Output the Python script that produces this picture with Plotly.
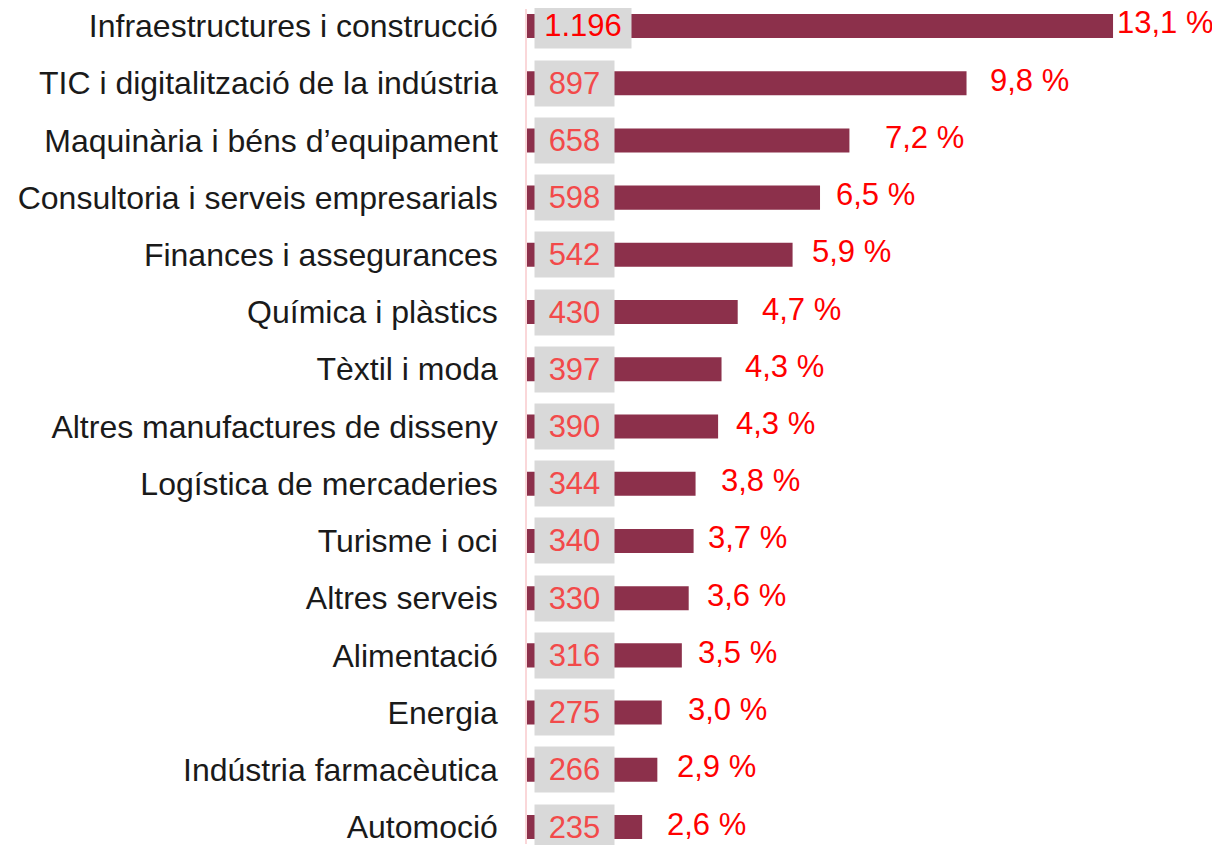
import plotly.graph_objects as go

categories = [
    "Infraestructures i construcció",
    "TIC i digitalització de la indústria",
    "Maquinària i béns d’equipament",
    "Consultoria i serveis empresarials",
    "Finances i assegurances",
    "Química i plàstics",
    "Tèxtil i moda",
    "Altres manufactures de disseny",
    "Logística de mercaderies",
    "Turisme i oci",
    "Altres serveis",
    "Alimentació",
    "Energia",
    "Indústria farmacèutica",
    "Automoció",
]
values = [1196, 897, 658, 598, 542, 430, 397, 390, 344, 340, 330, 316, 275, 266, 235]
value_labels = ["1.196", "897", "658", "598", "542", "430", "397", "390", "344",
                "340", "330", "316", "275", "266", "235"]
pct_labels = ["13,1 %", "9,8 %", "7,2 %", "6,5 %", "5,9 %", "4,7 %", "4,3 %", "4,3 %",
              "3,8 %", "3,7 %", "3,6 %", "3,5 %", "3,0 %", "2,9 %", "2,6 %"]

# styling
pct_gap_px = [2, 21, 34, 14, 17, 22, 21, 16, 23, 12, 16, 14, 24, 18, 23]
FONT = "Liberation Sans, Arial, Helvetica, sans-serif"
BAR_COLOR = "#8C304B"
FS = 32

# page has an 8px body margin; figure sized/placed to compensate
W, H = 1212, 837
L = 519
row_px = (828 - 25) / 14.0
top_c = 17.0  # centre of first row, in figure pixels

fig = go.Figure()
fig.add_trace(go.Bar(
    x=values, y=categories, orientation="h",
    marker=dict(color=BAR_COLOR, line=dict(width=0)),
    width=0.42, hoverinfo="skip",
))

annotations = []
for i, (cat, v, vl, pl) in enumerate(zip(categories, values, value_labels, pct_labels)):
    annotations.append(dict(
        x=0, y=cat, xref="x", yref="y", xanchor="left", yanchor="middle",
        xshift=7, text=vl, showarrow=False,
        font=dict(family=FONT, size=FS - 1, color="#FF0000" if i == 0 else "#F24A4A"),
        bgcolor="#D9D9D9", borderpad=5, width=86 if len(vl) > 3 else 69, align="center",
    ))
    annotations.append(dict(
        x=v, y=cat, xref="x", yref="y", xanchor="left", yanchor="middle",
        xshift=pct_gap_px[i], yshift=3, text=pl, showarrow=False,
        font=dict(family=FONT, size=FS - 1, color="#FF0000"),
    ))

px_per_unit = 0.49
fig.update_layout(
    width=W, height=H,
    margin=dict(l=L, r=0, t=0, b=0),
    plot_bgcolor="white", paper_bgcolor="white",
    showlegend=False,
    annotations=annotations,
    xaxis=dict(range=[0, (W - L) / px_per_unit], visible=False, fixedrange=True),
    yaxis=dict(
        type="category", categoryorder="array", categoryarray=categories,
        range=[(H - top_c) / row_px, -top_c / row_px],
        showgrid=False, zeroline=False,
        showline=True, linecolor="#FAD7D9", linewidth=1.5,
        ticks="", ticklabelstandoff=21,
        tickfont=dict(family=FONT, size=FS, color="#1A1A1A"),
    ),
)

fig.write_html("out.html")
